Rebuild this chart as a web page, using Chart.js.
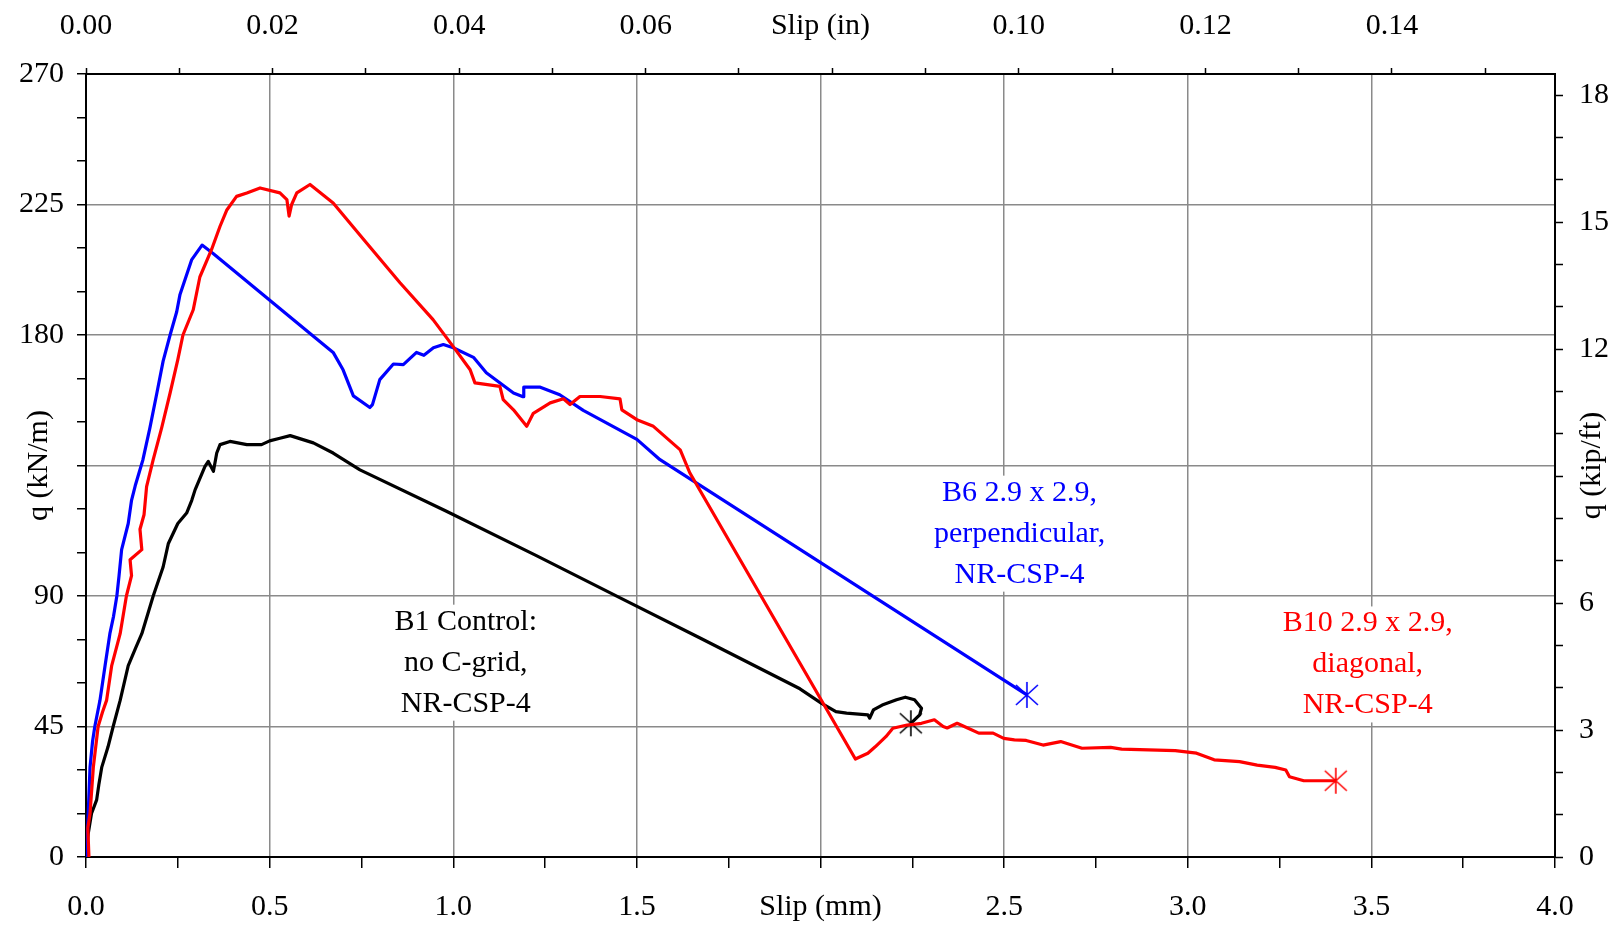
<!DOCTYPE html>
<html>
<head>
<meta charset="utf-8">
<title>Slip vs shear flow</title>
<script src="https://cdn.jsdelivr.net/npm/chart.js@4.4.1/dist/chart.umd.min.js"></script>
<style>
  body { margin: 0; background: #fff; }
  #wrap { width: 1623px; height: 928px; }
</style>
</head>
<body>
<div id="wrap"><canvas id="chart" width="1623" height="928"></canvas></div>
<script>
// B10 2.9 x 2.9, diagonal (red)
const b10Slip = [0.008, 0.005, 0.011, 0.020, 0.033, 0.045, 0.056, 0.070, 0.093, 0.110, 0.124, 0.120, 0.152, 0.147, 0.158, 0.165,
  0.183, 0.206, 0.229, 0.250, 0.264, 0.292, 0.310, 0.342, 0.365, 0.383, 0.410, 0.438, 0.474, 0.528, 0.547, 0.553, 0.560, 0.574,
  0.610, 0.673, 0.764, 0.855, 0.945, 1.000, 1.046, 1.059, 1.127, 1.136, 1.164, 1.200, 1.218, 1.264, 1.300, 1.318, 1.345, 1.400,
  1.454, 1.459, 1.500, 1.545, 1.618, 1.644, 2.095, 2.129, 2.149, 2.178, 2.197, 2.236, 2.275, 2.310, 2.334, 2.345, 2.372, 2.402,
  2.431, 2.470, 2.499, 2.528, 2.560, 2.606, 2.654, 2.712, 2.790, 2.820, 2.966, 3.024, 3.072, 3.141, 3.189, 3.238, 3.267, 3.277,
  3.316, 3.403];
const b10Q = [0, 10, 15, 31, 45, 50, 54, 66, 77, 90, 97, 102.5, 106, 113, 118, 127.7,
  137, 148, 160, 171.5, 180, 188.7, 200, 209.5, 217.5, 223, 227.8, 229, 230.7, 229, 226.7, 221, 225, 229,
  231.9, 225.5, 211.7, 198, 185.3, 176, 168, 163.5, 162.3, 157.7, 154.2, 148.5, 153, 156.6, 158, 156, 158.8, 158.8,
  158, 154.2, 150.8, 148.5, 140.4, 132.5, 33.8, 35.8, 38, 41.5, 44.4, 45.5, 46.1, 47.3, 45, 44.5, 46.1, 44.4,
  42.7, 42.7, 40.9, 40.4, 40.2, 38.6, 39.8, 37.5, 37.8, 37.2, 36.7, 35.8, 33.5, 32.9, 31.7, 30.9, 30, 27.7,
  26.3, 26.3];

// B6 2.9 x 2.9, perpendicular (blue)
const b6Slip = [0.000, 0.004, 0.006, 0.011, 0.018, 0.024, 0.038, 0.045, 0.052, 0.065, 0.075, 0.084, 0.090, 0.097, 0.115, 0.124,
  0.134, 0.155, 0.174, 0.193, 0.210, 0.229, 0.247, 0.256, 0.288, 0.316, 0.347, 0.620, 0.673, 0.700, 0.728, 0.773, 0.780,
  0.800, 0.837, 0.864, 0.900, 0.920, 0.946, 0.973, 1.000, 1.055, 1.090, 1.164, 1.190, 1.192, 1.237, 1.290, 1.354, 1.500,
  1.563, 2.562];
const b6Q = [0, 8, 15, 31, 40, 45, 54, 60, 66, 77, 83, 90, 97, 106, 115, 123,
  128, 137, 148, 160, 171, 180, 188, 194, 206, 211, 208, 179.5, 174, 168, 159, 155, 156,
  164.6, 170, 169.8, 174, 173, 175.6, 176.7, 175.6, 172.3, 167, 160, 158.7, 162, 162, 159.4, 154, 144,
  137, 55.9];

// B1 Control: no C-grid (black)
const b1Slip = [0.000, 0.006, 0.015, 0.029, 0.035, 0.043, 0.060, 0.074, 0.093, 0.115, 0.135, 0.152, 0.183, 0.210, 0.224, 0.250,
  0.274, 0.288, 0.297, 0.324, 0.333, 0.347, 0.356, 0.365, 0.392, 0.438, 0.478, 0.500, 0.528, 0.556, 0.619, 0.673, 0.746,
  0.980, 1.225, 1.468, 1.672, 1.944, 2.003, 2.042, 2.071, 2.129, 2.134, 2.144, 2.168, 2.207, 2.231, 2.256, 2.275, 2.270,
  2.246];
const b1Q = [0, 8, 15, 19.7, 25, 31, 38, 45, 54, 66, 72, 77, 90, 100, 108, 115,
  118.6, 123, 126.6, 134.7, 136.4, 133, 139.3, 142.2, 143.3, 142.2, 142.2, 143.5, 144.4, 145.3, 142.8, 139.3, 133.5,
  119.3, 104, 88.5, 75.5, 58, 53, 50.1, 49.6, 49, 47.9, 50.7, 52.4, 54.2, 55.1, 54.2, 51.3, 49,
  46.1];

// tick labels (only every second / third tick is labelled)
const mmLabels = ['0.0', '0.5', '1.0', '1.5', '', '2.5', '3.0', '3.5', '4.0'];       // every 0.5 mm
const inLabels = ['0.00', '0.02', '0.04', '0.06', '', '0.10', '0.12', '0.14'];     // every 0.02 in
const kNLabels = ['0', '45', '90', '', '180', '225', '270'];                       // every 45 kN/m
const kipLabels = ['0', '3', '6', '', '12', '15', '18'];                           // every 3 kip/ft

const MM_PER_IN = 25.4;
const KN_PER_KIP = 14.5939;
const Q_MAX = 270;
const SLIP_MAX = 4;

const notes = [
  { lines: ['B1 Control:', 'no C-grid,', 'NR-CSP-4'], color: '#000000', x: 1.034, y: 67 },
  { lines: ['B6 2.9 x 2.9,', 'perpendicular,', 'NR-CSP-4'], color: '#0000ff', x: 2.542, y: 111.5 },
  { lines: ['B10 2.9 x 2.9,', 'diagonal,', 'NR-CSP-4'], color: '#ff0000', x: 3.49, y: 66.4 },
];

const FONT = '"Liberation Serif", "Times New Roman", serif';
Chart.defaults.font.family = FONT;
Chart.defaults.font.size = 30;
Chart.defaults.color = '#000';

function toPoints(xs, ys) {
  return xs.map((x, i) => ({ x: x, y: ys[i] }));
}

// asterisk marker used at the end of each curve
function makeStar(color) {
  const c = document.createElement('canvas');
  c.width = 28;
  c.height = 28;
  const g = c.getContext('2d');
  g.strokeStyle = color;
  g.lineWidth = 1.6;
  g.beginPath();
  g.moveTo(14, 1); g.lineTo(14, 27);
  g.moveTo(3, 4); g.lineTo(25, 24);
  g.moveTo(25, 4); g.lineTo(3, 24);
  g.stroke();
  return c;
}

function onStep(v, step) {
  const k = v / step;
  return Math.abs(k - Math.round(k)) < 1e-6;
}

function pickLabel(v, step, labels) {
  if (!onStep(v, step)) return '';
  const lbl = labels[Math.round(v / step)];
  return lbl === undefined ? '' : lbl;
}

function series(label, xs, ys, color) {
  const last = xs.length - 1;
  return {
    label: label,
    data: toPoints(xs, ys),
    borderColor: color,
    backgroundColor: color,
    borderWidth: 3.2,
    borderJoinStyle: 'round',
    tension: 0,
    pointStyle: makeStar(color),
    pointRadius: (ctx) => ctx.dataIndex === last ? 13 : 0,
    pointHoverRadius: 0,
    xAxisID: 'x',
    yAxisID: 'y',
  };
}

const notesPlugin = {
  id: 'notes',
  beforeDatasetsDraw(chart) {
    const { ctx, scales } = chart;
    ctx.save();
    ctx.font = '30px ' + FONT;
    ctx.textAlign = 'center';
    ctx.textBaseline = 'middle';
    notes.forEach(n => {
      const cx = scales.x.getPixelForValue(n.x);
      const cy = scales.y.getPixelForValue(n.y);
      const w = Math.max(...n.lines.map(l => ctx.measureText(l).width));
      ctx.fillStyle = '#fff';
      ctx.fillRect(cx - w / 2 - 6, cy - 58, w + 12, 116);
      ctx.fillStyle = n.color;
      n.lines.forEach((l, i) => ctx.fillText(l, cx, cy + (i - 1) * 41));
    });
    ctx.restore();
  },
  afterDraw(chart) {
    // right axis title reads bottom-to-top like the left one
    const { ctx, scales } = chart;
    const s = scales.y2;
    ctx.save();
    ctx.font = '30px ' + FONT;
    ctx.fillStyle = '#000';
    ctx.textAlign = 'center';
    ctx.textBaseline = 'middle';
    ctx.translate(s.left + 37, (s.top + s.bottom) / 2);
    ctx.rotate(-Math.PI / 2);
    ctx.fillText('q (kip/ft)', 0, 0);
    ctx.restore();
  }
};

const gridColor = '#8a8a8a';

new Chart(document.getElementById('chart'), {
  type: 'line',
  data: {
    datasets: [
      series('B10 2.9 x 2.9, diagonal, NR-CSP-4', b10Slip, b10Q, '#ff0000'),
      series('B6 2.9 x 2.9, perpendicular, NR-CSP-4', b6Slip, b6Q, '#0000ff'),
      series('B1 Control: no C-grid, NR-CSP-4', b1Slip, b1Q, '#000000'),
    ]
  },
  options: {
    responsive: false,
    animation: false,
    layout: { padding: 0 },
    plugins: {
      legend: { display: false },
      tooltip: { enabled: false },
    },
    scales: {
      x: {
        type: 'linear',
        position: 'bottom',
        min: 0,
        max: SLIP_MAX,
        afterFit: (s) => { s.height = 71; },
        ticks: {
          stepSize: 0.25,
          autoSkip: false,
          maxRotation: 0,
          padding: 21,
          callback: (v) => pickLabel(v, 0.5, mmLabels),
        },
        grid: {
          color: (c) => (c.tick && onStep(c.tick.value, 0.5) && c.tick.value > 0 && c.tick.value < SLIP_MAX) ? gridColor : 'rgba(0,0,0,0)',
          lineWidth: 1.5,
          tickColor: '#000',
          tickWidth: 1.5,
          tickLength: 11,
        },
        border: { display: true, color: '#000', width: 2 },
        title: { display: true, text: 'Slip (mm)', padding: { top: 0, bottom: 3 } },
      },
      x2: {
        type: 'linear',
        position: 'top',
        min: 0,
        max: SLIP_MAX / MM_PER_IN,
        afterFit: (s) => { s.height = 74; },
        ticks: {
          stepSize: 0.01,
          includeBounds: false,
          autoSkip: false,
          maxRotation: 0,
          padding: 24,
          callback: (v) => pickLabel(v, 0.02, inLabels),
        },
        grid: {
          drawOnChartArea: false,
          tickColor: '#000',
          tickWidth: 1.5,
          tickLength: 6,
        },
        border: { display: true, color: '#000', width: 2 },
        title: { display: true, text: 'Slip (in)', padding: { top: 8, bottom: 0 } },
      },
      y: {
        type: 'linear',
        position: 'left',
        min: 0,
        max: Q_MAX,
        afterFit: (s) => { s.width = 86; },
        ticks: {
          stepSize: 15,
          autoSkip: false,
          padding: 13,
          callback: (v) => pickLabel(v, 45, kNLabels),
        },
        grid: {
          color: (c) => (c.tick && onStep(c.tick.value, 45) && c.tick.value > 0 && c.tick.value < Q_MAX) ? gridColor : 'rgba(0,0,0,0)',
          lineWidth: 1.5,
          tickColor: '#000',
          tickWidth: 1.5,
          tickLength: 9,
        },
        border: { display: true, color: '#000', width: 2 },
        title: { display: true, text: 'q (kN/m)', padding: { top: 21, bottom: 0 } },
      },
      y2: {
        type: 'linear',
        position: 'right',
        min: 0,
        max: Q_MAX / KN_PER_KIP,
        afterFit: (s) => { s.width = 68; },
        ticks: {
          stepSize: 1,
          includeBounds: false,
          autoSkip: false,
          padding: 16,
          callback: (v) => pickLabel(v, 3, kipLabels),
        },
        grid: {
          drawOnChartArea: false,
          tickColor: '#000',
          tickWidth: 1.5,
          tickLength: 8,
        },
        border: { display: true, color: '#000', width: 2 },
      },
    }
  },
  plugins: [notesPlugin]
});
</script>
</body>
</html>
